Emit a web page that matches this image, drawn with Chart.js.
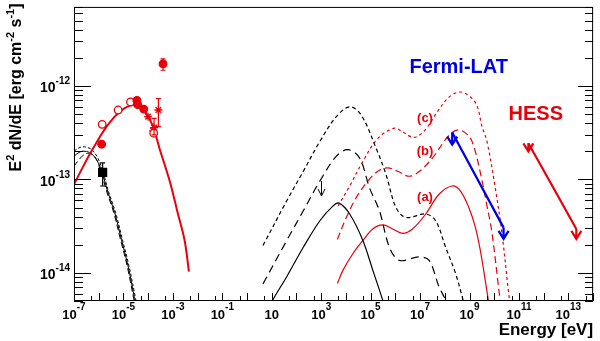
<!DOCTYPE html>
<html>
<head>
<meta charset="UTF-8">
<title>SED</title>
<script src="https://cdn.jsdelivr.net/npm/chart.js"></script>
<style>
  body { margin: 0; background: #fff; }
</style>
</head>
<body>
<canvas id="sedChart" width="600" height="341"></canvas>
<script>
// values: E in eV, E^2 dN/dE in erg cm^-2 s^-1

// black curves, far left (three models)
const nirSolidE = [1e-7, 1.75e-7, 2.78e-7, 4.85e-7, 8.45e-7, 1.37e-6, 2.39e-6, 4.44e-6, 8.24e-6, 1.52e-5, 2.82e-5, 3.2e-5];
const nirSolidF = [1.77e-13, 1.97e-13, 2.0e-13, 1.90e-13, 1.60e-13, 1.19e-13, 7.16e-14, 4.4e-14, 2.29e-14, 1.2e-14, 5.3e-15, 4.4e-15];
const nirShortE = [1e-7, 1.75e-7, 3.05e-7, 5.32e-7, 9.3e-7, 1.5e-6, 2.6e-6, 4.85e-6, 9.0e-6, 1.66e-5, 3.1e-5, 3.5e-5];
const nirShortF = [2.01e-13, 2.20e-13, 2.22e-13, 2.07e-13, 1.68e-13, 1.19e-13, 7.16e-14, 4.4e-14, 2.29e-14, 1.2e-14, 5.3e-15, 4.4e-15];
const nirLongE = [1e-7, 1.75e-7, 3.05e-7, 4.85e-7, 7.7e-7, 1.25e-6, 2.2e-6, 4.07e-6, 7.55e-6, 1.4e-5, 2.6e-5, 2.95e-5];
const nirLongF = [1.38e-13, 1.68e-13, 1.88e-13, 1.88e-13, 1.68e-13, 1.19e-13, 7.16e-14, 4.4e-14, 2.29e-14, 1.2e-14, 5.3e-15, 4.4e-15];

// red synchrotron fit
const syncE = [1e-7, 2.04e-7, 6.0e-7, 2.08e-6, 7.16e-6, 2.46e-5, 6.22e-5, 1.46e-4, 2.94e-4, 7.43e-4, 1.61e-3, 2.99e-3, 4.46e-3];
const syncF = [8.8e-14, 1.28e-13, 2.16e-13, 3.67e-13, 5.3e-13, 6.23e-13, 5.6e-13, 3.86e-13, 2.1e-13, 9.6e-14, 4.26e-14, 2.22e-14, 1.03e-14];

// measured points
const filledE = [1.31e-6, 3.5e-5, 3.8e-5, 6.65e-5, 4.0e-4];
const filledF = [2.38e-13, 7.0e-13, 6.3e-13, 5.65e-13, 1.72e-12];
const openE = [1.38e-6, 6.1e-6, 1.93e-5, 1.68e-4];
const openF = [3.88e-13, 5.52e-13, 6.74e-13, 3.12e-13];
const starE = [9.9e-5, 1.73e-4, 1.6e-4, 2.6e-4];
const starF = [4.69e-13, 3.58e-13, 3.3e-13, 5.52e-13];
const redErrE = [4.0e-4, 1.73e-4, 2.6e-4];
const redErrLo = [1.47e-12, 3.0e-13, 3.67e-13];
const redErrHi = [1.95e-12, 4.5e-13, 7.3e-13];
const squareE = [1.44e-6];
const squareF = [1.19e-13];
const squareLo = [8.5e-14];
const squareHi = [1.5e-13];

// black curves, middle
const icShortE = [4.4, 40.4, 189, 887, 4110, 1.42e4, 4.15e4, 1.66e5, 4.19e5, 1.06e6, 2.67e6, 1.69e7, 4.28e7, 1.08e8, 2.72e8, 5.05e8, 6.07e8];
const icShortF = [1.96e-14, 5.9e-14, 1.22e-13, 2.55e-13, 4.69e-13, 5.98e-13, 4.88e-13, 2.16e-13, 1.13e-13, 5.0e-14, 3.92e-14, 4.26e-14, 3.61e-14, 1.88e-14, 9.9e-15, 5.57e-15, 4.6e-15];
const icLongE = [4.4, 40.4, 189, 887, 4110, 1.21e4, 3.58e4, 9.04e4, 2.28e5, 5.74e5, 1.45e6, 9.2e6, 2.32e7, 5.85e7, 1.08e8, 1.26e8];
const icLongF = [7.6e-15, 2.22e-14, 4.61e-14, 9.6e-14, 1.77e-13, 2.08e-13, 1.69e-13, 8.1e-14, 4.61e-14, 1.88e-14, 1.36e-14, 1.48e-14, 1.36e-14, 7.1e-15, 5.1e-15, 4.2e-15];
const icSolidE = [7.43, 10.1, 40.4, 189, 887, 3030, 5280, 1.42e4, 4.86e4, 1.22e5, 3.09e5, 3.72e5];
const icSolidF = [4.0e-15, 4.93e-15, 9.1e-15, 1.88e-14, 3.61e-14, 5.2e-14, 5.57e-14, 4.26e-14, 2.22e-14, 1.07e-14, 5.1e-15, 4.2e-15];

// red curves (a), (b), (c)
const modAE = [4520, 7650, 1.93e4, 4.86e4, 1.22e5, 3.09e5, 7.8e5, 1.96e6, 4.95e6, 1.69e7, 5.85e7, 2.0e8, 4.31e8, 9.38e8, 1.73e9, 2.74e9, 4.64e9, 6.13e9];
const modAF = [7.7e-15, 1.07e-14, 1.61e-14, 2.22e-14, 2.95e-14, 3.26e-14, 2.95e-14, 2.65e-14, 2.95e-14, 4.26e-14, 6.93e-14, 8.5e-14, 7.5e-14, 5.0e-14, 3.07e-14, 1.74e-14, 7.4e-15, 4.6e-15];
const modBE = [4520, 1.04e4, 2.62e4, 7.73e4, 1.95e5, 4.91e5, 1.24e6, 3.65e6, 9.46e6, 3.15e7, 1.47e8, 3.65e8, 9.64e8, 1.53e9, 2.67e9, 5.09e9, 8.09e9, 1.74e10, 2.04e10];
const modBF = [2.28e-14, 3.92e-14, 6.38e-14, 9.6e-14, 1.22e-13, 1.33e-13, 1.22e-13, 1.08e-13, 1.22e-13, 1.69e-13, 2.95e-13, 3.38e-13, 2.88e-13, 2.2e-13, 1.22e-13, 5.2e-14, 2.7e-14, 5.06e-15, 4.0e-15];
const modCE = [4820, 1.42e4, 4.86e4, 1.95e5, 9.12e5, 2.15e6, 5.8e6, 1.65e7, 5.0e7, 1.52e8, 4.31e8, 1.09e9, 2.02e9, 3.21e9, 5.09e9, 1.07e10, 2.04e10, 3.78e10, 4.69e10];
const modCF = [5.2e-14, 8.5e-14, 1.56e-13, 2.74e-13, 3.53e-13, 3.17e-13, 2.81e-13, 3.41e-13, 5.29e-13, 7.62e-13, 8.6e-13, 7.62e-13, 6.12e-13, 3.67e-13, 2.55e-13, 8.5e-14, 2.7e-14, 6.25e-15, 4.0e-15];

// upper limits: Fermi-LAT, HESS, and one black arrow
const fermiE = [2.0e8, 2.39e10];
const fermiF = [3.17e-13, 3.05e-14];
const fermiTip = [2.35e-13, 2.31e-14];
const hessE = [2.41e11, 2.1e13];
const hessF = [2.44e-13, 2.95e-14];
const hessTip = [1.99e-13, 2.31e-14];
const ulE = [1030];
const ulF = [9.6e-14];
const ulTip = [6.65e-14];

// axis ticks
const xTickExp = [-7, -5, -3, -1, 1, 3, 5, 7, 9, 11, 13];
const yTickExp = [-14, -13, -12];

const FONT = '"Liberation Sans", Arial, Helvetica, sans-serif';
const RED = '#e8000a';
const BLUE = '#0000e6';

const pts = (xs, ys) => xs.map((x, i) => ({ x: x, y: ys[i] }));

function curve(xs, ys, color, width, dash) {
  return {
    data: pts(xs, ys), showLine: true, borderColor: color, borderWidth: width,
    borderDash: dash || [], pointRadius: 0, tension: 0.35, fill: false
  };
}
function marks(xs, ys, style, color, fill, r) {
  return {
    data: pts(xs, ys), showLine: false, pointStyle: style, pointRadius: r,
    pointBorderColor: color, pointBackgroundColor: fill, pointBorderWidth: 1.3
  };
}

function richWidth(ctx, parts, size, supSize) {
  let w = 0;
  for (const [t, sup] of parts) {
    ctx.font = `bold ${sup ? supSize : size}px ${FONT}`;
    w += ctx.measureText(t).width;
  }
  return w;
}
function drawRich(ctx, parts, x, y, size, supSize, rise) {
  for (const [t, sup] of parts) {
    ctx.font = `bold ${sup ? supSize : size}px ${FONT}`;
    ctx.fillText(t, x, sup ? y - rise : y);
    x += ctx.measureText(t).width;
  }
}
function downArrow(ctx, px, py, tip, color, w, hw, hl) {
  ctx.strokeStyle = color;
  ctx.lineWidth = w;
  ctx.beginPath();
  ctx.moveTo(px, py); ctx.lineTo(px, tip);
  ctx.moveTo(px - hw, tip - hl); ctx.lineTo(px, tip); ctx.lineTo(px + hw, tip - hl);
  ctx.stroke();
}

const rootFrame = {
  id: 'rootFrame',
  afterDatasetsDraw(chart) {
    const { ctx, chartArea: a, scales: { x, y } } = chart;
    ctx.save();

    // error bars
    const bars = (es, lo, hi, color) => {
      ctx.strokeStyle = color; ctx.lineWidth = 1.2;
      es.forEach((e, i) => {
        const px = x.getPixelForValue(e), p1 = y.getPixelForValue(lo[i]), p2 = y.getPixelForValue(hi[i]);
        ctx.beginPath();
        ctx.moveTo(px, p1); ctx.lineTo(px, p2);
        ctx.moveTo(px - 2.5, p1); ctx.lineTo(px + 2.5, p1);
        ctx.moveTo(px - 2.5, p2); ctx.lineTo(px + 2.5, p2);
        ctx.stroke();
      });
    };
    bars(redErrE, redErrLo, redErrHi, RED);
    bars(squareE, squareLo, squareHi, '#000');

    // upper-limit arrows
    fermiE.forEach((e, i) => downArrow(ctx, x.getPixelForValue(e), y.getPixelForValue(fermiF[i]), y.getPixelForValue(fermiTip[i]), BLUE, 2.3, 5, 8));
    hessE.forEach((e, i) => downArrow(ctx, x.getPixelForValue(e), y.getPixelForValue(hessF[i]), y.getPixelForValue(hessTip[i]), RED, 2.2, 5, 8));
    ulE.forEach((e, i) => downArrow(ctx, x.getPixelForValue(e), y.getPixelForValue(ulF[i]), y.getPixelForValue(ulTip[i]), '#000', 1, 3.5, 7));

    // frame
    ctx.setLineDash([]);
    ctx.strokeStyle = '#000';
    ctx.lineWidth = 1;
    ctx.strokeRect(a.left + 0.5, a.top + 0.5, a.right - a.left - 1, a.bottom - a.top - 1);

    // y ticks (left and right, inside)
    ctx.beginPath();
    for (let d = -15; d <= -12; d++) {
      for (let k = 1; k <= 9; k++) {
        const v = k * Math.pow(10, d);
        if (v < y.min || v > y.max) continue;
        const py = Math.round(y.getPixelForValue(v)) + 0.5;
        const major = k === 1;
        ctx.moveTo(a.left, py); ctx.lineTo(a.left + (major ? 17 : 9), py);
        ctx.moveTo(a.right, py); ctx.lineTo(a.right - (major ? 15 : 8), py);
      }
    }
    // x ticks (bottom, inside)
    for (let d = -7; d <= 14; d++) {
      [1, 5].forEach(k => {
        const v = k * Math.pow(10, d);
        if (v < x.min || v > x.max) return;
        const px = Math.round(x.getPixelForValue(v)) + 0.5;
        ctx.moveTo(px, a.bottom); ctx.lineTo(px, a.bottom - (k === 1 ? 8 : 5));
      });
    }
    ctx.stroke();

    // tick labels
    ctx.fillStyle = '#000';
    ctx.textAlign = 'left';
    ctx.textBaseline = 'alphabetic';
    xTickExp.forEach(e => {
      const parts = e === 1 ? [['10', false]] : [['10', false], [String(e), true]];
      const w = richWidth(ctx, parts, 13, 10);
      drawRich(ctx, parts, x.getPixelForValue(Math.pow(10, e)) - w / 2, 319, 13, 10, 9.5);
    });
    yTickExp.forEach(e => {
      const parts = [['10', false], [String(e), true]];
      const w = richWidth(ctx, parts, 14, 10);
      drawRich(ctx, parts, 70 - w, y.getPixelForValue(Math.pow(10, e)) + 6.5, 14, 10, 8);
    });

    // axis titles
    const xt = [['Energy [eV]', false]];
    drawRich(ctx, xt, a.right - richWidth(ctx, xt, 17, 11), 335, 17, 11, 6);
    const yt = [['E', false], ['2', true], [' dN/dE [erg cm', false], ['-2', true], [' s', false], ['-1', true], [']', false]];
    ctx.save();
    ctx.translate(20.5, 3.5);
    ctx.rotate(-Math.PI / 2);
    drawRich(ctx, yt, -richWidth(ctx, yt, 16, 11), 0, 16, 11, 6.5);
    ctx.restore();

    // annotations
    ctx.textAlign = 'center';
    ctx.font = `bold 20px ${FONT}`;
    ctx.fillStyle = BLUE;
    ctx.fillText('Fermi-LAT', 458.7, 72.7);
    ctx.fillStyle = RED;
    ctx.fillText('HESS', 535.8, 119.5);
    ctx.font = `bold 13px ${FONT}`;
    ctx.fillText('(c)', 425, 122);
    ctx.fillText('(b)', 425, 155);
    ctx.fillText('(a)', 425, 201);

    ctx.restore();
  }
};

new Chart(document.getElementById('sedChart').getContext('2d'), {
  type: 'scatter',
  data: {
    datasets: [
      marks(filledE, filledF, 'circle', RED, RED, 3.8),
      marks(openE, openF, 'circle', RED, '#fff', 3.8),
      marks(starE, starF, 'star', RED, RED, 4),
      marks(squareE, squareF, 'rect', '#000', '#000', 5.6),
      curve(fermiE, fermiF, BLUE, 2.3),
      curve(hessE, hessF, RED, 2.2),
      curve(syncE, syncF, RED, 2),
      curve(nirSolidE, nirSolidF, '#000', 1),
      curve(nirShortE, nirShortF, '#000', 1, [3, 2]),
      curve(nirLongE, nirLongF, '#000', 1, [6, 3]),
      curve(icSolidE, icSolidF, '#000', 1.2),
      curve(icShortE, icShortF, '#000', 1.2, [4, 3]),
      curve(icLongE, icLongF, '#000', 1.2, [8, 5]),
      curve(modAE, modAF, RED, 1.2),
      curve(modBE, modBF, RED, 1.2, [7, 4]),
      curve(modCE, modCF, RED, 1.2, [3, 3])
    ]
  },
  options: {
    responsive: false,
    animation: false,
    devicePixelRatio: 1,
    layout: { padding: { top: 4, right: 3, left: 0, bottom: 0 } },
    plugins: { legend: { display: false }, tooltip: { enabled: false } },
    scales: {
      x: {
        type: 'logarithmic', min: 1e-7, max: 1e14,
        grid: { display: false }, border: { display: false }, ticks: { display: false },
        afterFit: s => { s.height = 40; }
      },
      y: {
        type: 'logarithmic', min: 5e-15, max: 7e-12,
        grid: { display: false }, border: { display: false }, ticks: { display: false },
        afterFit: s => { s.width = 74; }
      }
    }
  },
  plugins: [rootFrame]
});
</script>
</body>
</html>
